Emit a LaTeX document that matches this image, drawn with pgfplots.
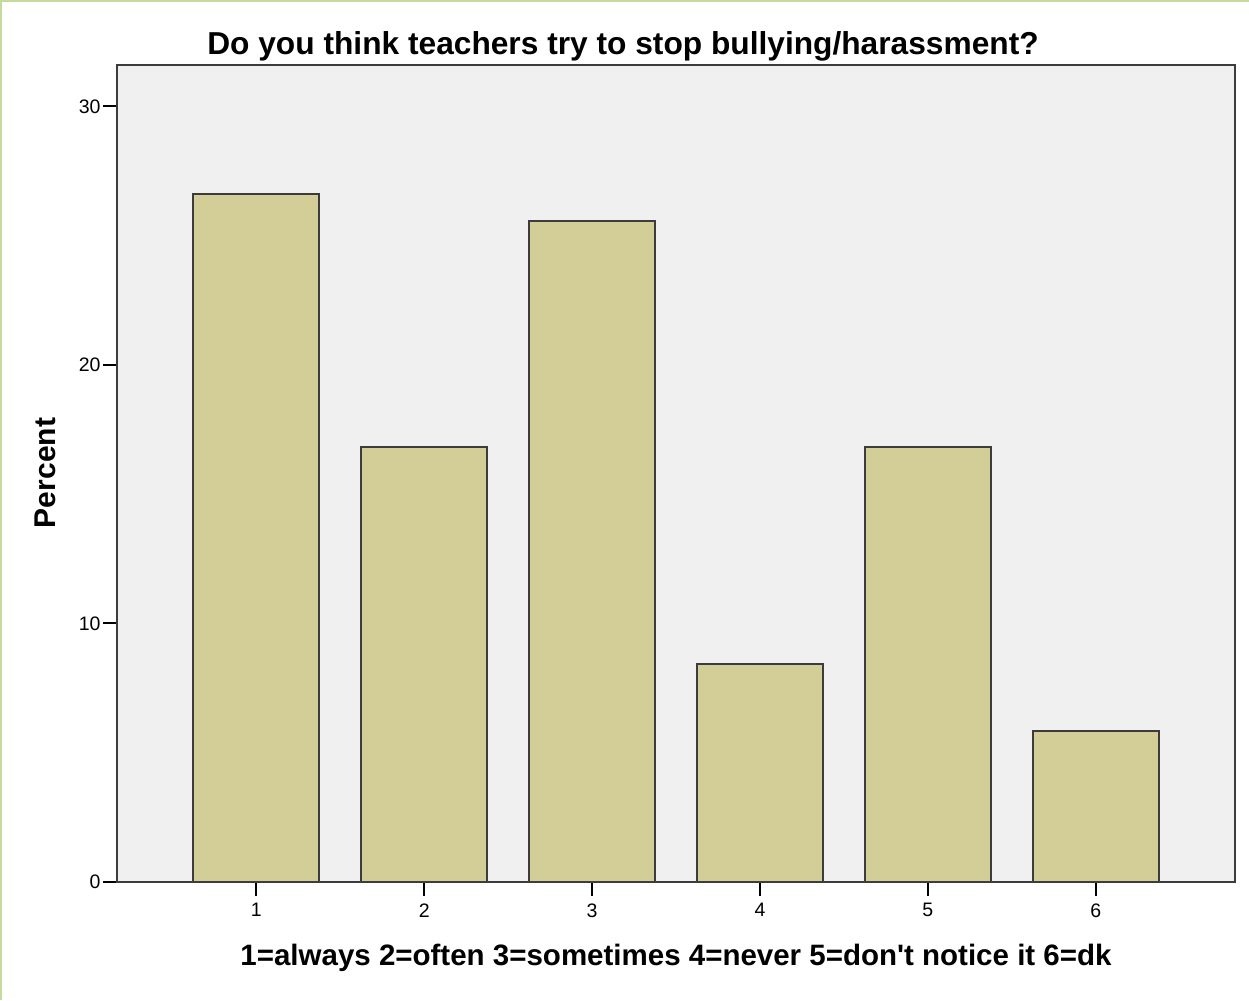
\documentclass[border=0pt]{standalone}
\usepackage{pgfplots}
\pgfplotsset{compat=1.18}
\usepackage{fontspec}
\setmainfont{Liberation Sans}
\definecolor{barfill}{RGB}{211,206,151}
\definecolor{bgplot}{RGB}{240,240,240}
\definecolor{edgec}{RGB}{60,60,60}
\definecolor{greenborder}{RGB}{195,220,158}
\begin{document}
\begin{tikzpicture}[x=1pt,y=1pt]
\path[use as bounding box] (0,0) rectangle (499.6,400);
\fill[white] (0,0) rectangle (499.6,400);
\draw[greenborder, line width=0.8pt] (0.4,0) -- (0.4,399.6) -- (499.6,399.6);
\begin{axis}[
  at={(46.8pt,47.2pt)}, anchor=south west,
  scale only axis, width=447.2pt, height=326.8pt,
  xmin=0.17, xmax=6.83, ymin=0, ymax=31.6,
  axis background/.style={fill=bgplot},
  axis line style={edgec, line width=0.8pt},
  xtick={1,2,3,4,5,6}, ytick={0,10,20,30},
  xtick pos=bottom, ytick pos=left,
  tick align=outside,
  major tick length=5.4pt,
  tick style={black, line width=0.8pt},
  tick label style={font=\fontsize{7.8}{9}\selectfont},
  /pgf/number format/assume math mode=true,
  yticklabel style={inner sep=1pt},
  xticklabel style={inner sep=3pt},
  ybar, bar width=0.75,
]
\addplot[fill=barfill, draw=edgec, line width=0.8pt] coordinates {
  (1,26.6) (2,16.83) (3,25.57) (4,8.43) (5,16.83) (6,5.84)
};
\end{axis}
\node at (249.2,381.4) {\fontsize{12.68}{14}\selectfont\bfseries Do you think teachers try to stop bullying/harassment?};
\node at (270.4,16.8) {\fontsize{11.8}{14}\selectfont\bfseries 1=always 2=often 3=sometimes 4=never 5=don\textquotesingle t notice it 6=dk};
\node[rotate=90] at (18,210.8) {\fontsize{12}{14}\selectfont\bfseries Percent};
\end{tikzpicture}
\end{document}
